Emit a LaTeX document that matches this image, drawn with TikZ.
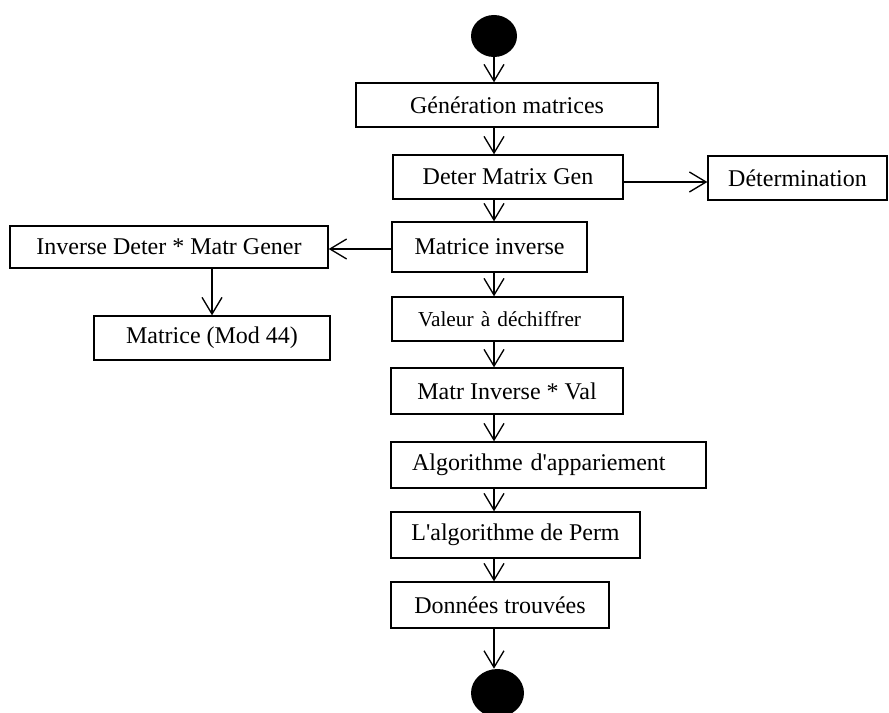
\documentclass[tikz,border=0pt]{standalone}
\usepackage{fontspec}
\setmainfont{Liberation Serif}
\usetikzlibrary{arrows.meta, shapes.geometric}
\tikzset{
	activity/.style={draw, line width=1pt, inner sep=0pt, font=\fontsize{18}{20}\selectfont},
	boxsize/.style 2 args={minimum width=#1*0.75pt, minimum height=#2*0.75pt},
	lefttext/.style 2 args={text width=#1*0.75pt, inner xsep=#2*0.75pt, align=left},
	dot/.style={ellipse, fill=black, inner sep=0pt},
	flow/.style={draw, line width=1pt, -{Straight Barb[length=12.5pt,width=15pt,line width=1pt]}}
}

\begin{document}
\begin{tikzpicture}[x=0.75pt, y=-0.75pt]
\useasboundingbox (0,0) rectangle (889,713);

\node[dot, boxsize={46}{42}] (start) at (494,36) {};
\node[activity, boxsize={302}{44}] (gen) at (507,105) {Génération matrices};
\node[activity, boxsize={230}{44}] (deter) at (508,177) {Deter Matrix Gen};
\node[activity, boxsize={179}{44}] (determ) at (797.5,178) {Détermination};
\node[activity, boxsize={195}{50}] (inv) at (489.5,247) {Matrice inverse};
\node[activity, boxsize={318}{42}] (invdet) at (169,247) {Inverse Deter * Matr Gener};
\node[activity, boxsize={236}{44}] (mod) at (212,338) {Matrice (Mod 44)};
\node[activity, boxsize={231}{44}, lefttext={179}{26}, font=\fontsize{16}{18}\selectfont] (val) at (507.5,319) {Valeur à déchiffrer};
\node[activity, boxsize={232}{46}] (matr) at (507,391) {Matr Inverse * Val};
\node[activity, boxsize={315}{46}, lefttext={273}{21}] (algo) at (548.5,465) {Algorithme d\textquotesingle appariement};
\node[activity, boxsize={249}{46}] (perm) at (515.5,535) {L\textquotesingle algorithme de Perm};
\node[activity, boxsize={218}{46}] (donn) at (500,605) {Données trouvées};
\node[dot, boxsize={53}{48}] (end) at (497.5,693) {};

% flot principal
\draw[flow] (start) -- (gen.north -| start);
\draw[flow] (gen.south -| start) -- (deter.north -| start);
\draw[flow] (deter.south -| start) -- (inv.north -| start);
\draw[flow] (inv.south -| start) -- (val.north -| start);
\draw[flow] (val.south -| start) -- (matr.north -| start);
\draw[flow] (matr.south -| start) -- (algo.north -| start);
\draw[flow] (algo.south -| start) -- (perm.north -| start);
\draw[flow] (perm.south -| start) -- (donn.north -| start);
\draw[flow] (donn.south -| start) -- (end.north -| start);

% branches
\draw[flow] ([yshift=-3.75pt]deter.east) -- ([yshift=-3.75pt]deter.east -| determ.west);
\draw[flow] ([yshift=-1.5pt]inv.west) -- ([yshift=-1.5pt]inv.west -| invdet.east);
\draw[flow] (invdet.south -| mod) -- (mod.north);
\end{tikzpicture}
\end{document}
